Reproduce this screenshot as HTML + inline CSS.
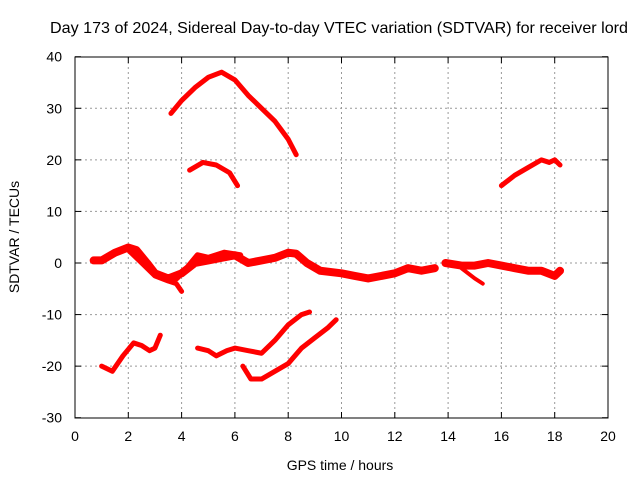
<!DOCTYPE html>
<html><head><meta charset="utf-8"><style>
body{margin:0;background:#fff;}
svg text{font-family:"Liberation Sans",sans-serif;font-size:14px;fill:#000;}
</style></head><body>
<svg id="chart" width="640" height="480" xmlns="http://www.w3.org/2000/svg">
<text x="339" y="33" text-anchor="middle" style="font-size:16px" textLength="578" lengthAdjust="spacingAndGlyphs">Day 173 of 2024, Sidereal Day-to-day VTEC variation (SDTVAR) for receiver lord</text>
<g id="grid"></g><g id="series"></g>
<rect x="75" y="57" width="533" height="361" fill="none" stroke="#000" stroke-width="1"/>
<g id="ticks"></g>
<text x="340" y="470" text-anchor="middle">GPS time / hours</text>
<text transform="translate(19,237) rotate(-90)" text-anchor="middle">SDTVAR / TECUs</text>
</svg>
<script>
const xTicks=[0,2,4,6,8,10,12,14,16,18,20];
const yTicks=[-30,-20,-10,0,10,20,30,40];
const sTop=[[3.6,29],[4.0,31.5],[4.5,34],[5.0,36],[5.5,37],[6.0,35.5],[6.5,32.5],[7.0,30],[7.5,27.5],[8.0,24],[8.3,21]];
const sMid=[[4.3,18],[4.8,19.5],[5.3,19],[5.8,17.5],[6.1,15]];
const sRight=[[16.0,15],[16.5,17],[17.0,18.5],[17.5,20],[17.8,19.5],[18.0,20],[18.2,19]];
const sBand=[[0.7,0.5],[1.0,0.5],[1.5,2],[2.0,3],[2.3,2.5],[2.7,0],[3.0,-2],[3.5,-3],[4.0,-2],[4.5,0],[5.0,0.5],[5.5,1],[6.0,1.5],[6.5,0],[7.0,0.5],[7.5,1],[8.0,2],[8.3,1.8],[8.7,0],[9.2,-1.5],[10,-2],[10.5,-2.5],[11,-3],[11.5,-2.5],[12,-2],[12.5,-1],[13,-1.5],[13.5,-1]];
const sBand2=[[13.9,0],[14.5,-0.5],[15,-0.5],[15.5,0],[16,-0.5],[16.5,-1],[17,-1.5],[17.5,-1.5],[18,-2.5],[18.2,-1.5]];
const sBranch=[[2.0,2.5],[2.5,0],[3.0,-2.5],[3.5,-3.5],[3.8,-4],[4.0,-5.5]];
const sBranch2=[[3.8,-3],[4.2,-1],[4.6,1.5],[5.0,1],[5.6,2],[6.2,1.5]];
const sBranch3=[[14.5,-1],[15,-3],[15.3,-4]];
const sLow1=[[1.0,-20],[1.4,-21],[1.8,-18],[2.2,-15.5],[2.5,-16],[2.8,-17],[3.0,-16.5],[3.2,-14]];
const sLow2=[[4.6,-16.5],[5.0,-17],[5.3,-18],[5.7,-17],[6.0,-16.5],[6.5,-17],[7.0,-17.5],[7.5,-15],[8.0,-12],[8.5,-10],[8.8,-9.5]];
const sLow3=[[6.3,-20],[6.6,-22.5],[7.0,-22.5],[7.5,-21],[8.0,-19.5],[8.5,-16.5],[9.0,-14.5],[9.5,-12.5],[9.8,-11]];
const NS="http://www.w3.org/2000/svg";
function X(h){return 75+h*533/20;}
function Y(v){return 263-v*361/70;}
const grid=document.getElementById('grid'),ticks=document.getElementById('ticks'),ser=document.getElementById('series');
function mk(tag,p,a){const e=document.createElementNS(NS,tag);for(const k in a)e.setAttribute(k,a[k]);p.appendChild(e);return e;}
xTicks.forEach(t=>{const x=X(t);
 if(t>0&&t<20){const l=mk('line',grid,{x1:x,x2:x,y1:57,y2:418,stroke:'#999','stroke-dasharray':'2,3'});
 
 }
 const tx=mk('text',ticks,{x:x,y:441,'text-anchor':'middle'});tx.textContent=t;
 
 
 mk('line',ticks,{x1:x,x2:x,y1:418,y2:412,stroke:'#000'});mk('line',ticks,{x1:x,x2:x,y1:57,y2:63,stroke:'#000'});});
yTicks.forEach(t=>{const y=Y(t);
 if(t>-30&&t<40){const l=mk('line',grid,{x1:75,x2:608,y1:y,y2:y,stroke:'#999','stroke-dasharray':'2,3'});
 
 }
 const tx=mk('text',ticks,{x:62,y:y+5,'text-anchor':'end'});tx.textContent=t;
 
 
 mk('line',ticks,{x1:75,x2:81,y1:y,y2:y,stroke:'#000'});mk('line',ticks,{x1:608,x2:602,y1:y,y2:y,stroke:'#000'});});
[[sTop,5],[sMid,5],[sRight,5],[sBand,8],[sBand2,8],[sBranch,5],[sBranch2,6],[sBranch3,4],[sLow1,5],[sLow2,5],[sLow3,5]].forEach(([s,w])=>{
 const p=mk('polyline',ser,{points:s.map(d=>X(d[0])+','+Y(d[1])).join(' '),fill:'none',stroke:'#f00','stroke-width':w,'stroke-linejoin':'round','stroke-linecap':'round'});
 
 });
</script>
</body></html>
